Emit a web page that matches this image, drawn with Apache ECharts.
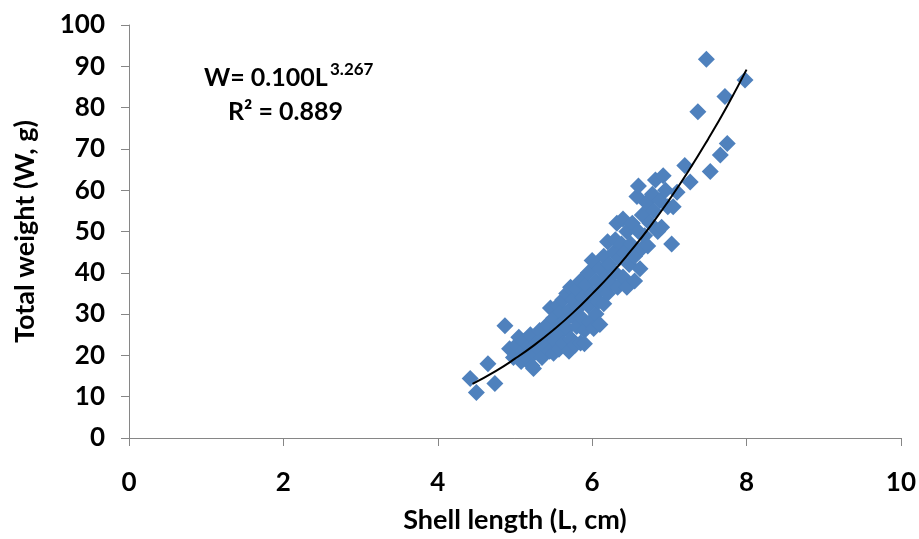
<!DOCTYPE html>
<html>
<head>
<meta charset="utf-8">
<script src="https://cdn.jsdelivr.net/npm/echarts@6/dist/echarts.min.js"></script>
<style>html,body{margin:0;padding:0;background:#fff;}#c{width:919px;height:539px;}</style>
</head>
<body>
<div id="c"></div>
<script>
// Shell length (cm), total weight (g)
const samples = [
[4.42,14.4],[4.50,11.0],[4.65,18.0],[4.74,13.2],[4.87,27.2],[4.93,21.6],[4.98,19.5],[5.02,22.5],[5.05,24.4],[5.08,18.5],
[5.10,21.0],[5.12,23.5],[5.15,19.8],[5.18,22.3],[5.20,25.0],[5.22,17.5],[5.24,16.8],[5.25,20.5],[5.28,23.0],[5.30,21.8],
[5.32,26.0],[5.35,19.5],[5.37,24.2],[5.40,22.0],[5.42,27.5],[5.45,21.0],[5.46,31.5],[5.48,25.0],[5.50,29.0],[5.50,20.5],
[5.52,23.5],[5.55,32.0],[5.55,27.0],[5.57,21.5],[5.60,30.5],[5.60,25.5],[5.62,33.5],[5.63,22.8],[5.65,28.5],[5.67,35.0],
[5.68,26.5],[5.70,31.0],[5.70,21.0],[5.72,36.5],[5.73,24.0],[5.75,29.5],[5.75,33.5],[5.78,22.5],[5.80,27.0],[5.80,36.0],
[5.82,31.5],[5.85,38.0],[5.85,23.0],[5.87,29.0],[5.88,34.0],[5.90,26.0],[5.90,22.8],[5.92,37.0],[5.95,32.0],[5.95,40.0],
[5.97,28.0],[6.00,35.0],[6.00,43.0],[6.02,26.5],[6.05,30.0],[6.05,38.0],[6.08,33.0],[6.10,41.0],[6.10,27.5],[6.12,36.0],
[6.15,44.0],[6.15,32.5],[6.18,39.0],[6.20,47.5],[6.20,35.0],[6.22,42.0],[6.25,37.5],[6.28,45.0],[6.30,40.0],[6.30,48.0],
[6.32,52.0],[6.33,36.5],[6.35,43.5],[6.38,47.0],[6.40,39.0],[6.40,53.0],[6.42,45.0],[6.45,36.5],[6.45,50.0],[6.48,42.0],
[6.50,47.0],[6.52,52.0],[6.55,44.0],[6.55,38.0],[6.58,58.5],[6.60,50.0],[6.60,61.0],[6.62,41.0],[6.65,46.0],[6.65,54.0],
[6.68,49.0],[6.70,57.0],[6.72,46.5],[6.75,52.0],[6.78,59.0],[6.80,55.0],[6.82,62.5],[6.85,50.0],[6.88,57.5],[6.90,51.0],
[6.92,63.5],[6.95,60.0],[6.98,56.0],[7.03,47.0],[7.05,56.0],[7.10,59.5],[7.20,66.0],[7.27,62.0],[7.37,79.0],[7.48,91.7],
[7.53,64.5],[7.66,68.5],[7.72,82.7],[7.75,71.3],[7.98,86.7]
];
// Trend curve
const trendL = [4.45,4.75,5.0,5.25,5.5,5.75,6.0,6.25,6.5,6.75,7.0,7.25,7.5,7.75,8.0];
const trendW = [13.1,16.2,19.2,22.5,26.2,30.3,34.9,39.8,45.3,51.2,57.7,64.7,72.3,80.4,89.2];
const xTicks = [0,2,4,6,8,10];
const yTicks = [0,10,20,30,40,50,60,70,80,90,100];
const xTitle = 'Shell length (L, cm)';
const yTitle = 'Total weight (W, g)';
const eqMain = 'W= 0.100L';
const eqSup = '3.267';
const eqR2 = 'R² = 0.889';

const FONT = 'Lato';
const axisGray = '#868686';
const chart = echarts.init(document.getElementById('c'));
chart.setOption({
  animation: false,
  backgroundColor: '#ffffff',
  grid: {left: 129, right: 18, top: 25, bottom: 100, containLabel: false},
  xAxis: {
    type: 'value', min: xTicks[0], max: xTicks[xTicks.length-1], interval: 2,
    name: xTitle, nameLocation: 'middle', nameGap: 69,
    nameTextStyle: {fontFamily: FONT, fontWeight: 'bold', fontSize: 27, color: '#000'},
    axisLine: {show: true, onZero: false, lineStyle: {color: axisGray, width: 1}},
    axisTick: {show: true, inside: false, length: 8, lineStyle: {color: axisGray}},
    axisLabel: {fontFamily: FONT, fontWeight: 'bold', fontSize: 26, color: '#000', margin: 32},
    splitLine: {show: false}
  },
  yAxis: {
    type: 'value', min: yTicks[0], max: yTicks[yTicks.length-1], interval: 10,
    name: yTitle, nameLocation: 'middle', nameGap: 90, nameRotate: 90,
    nameTextStyle: {fontFamily: FONT, fontWeight: 'bold', fontSize: 27, color: '#000'},
    axisLine: {show: true, lineStyle: {color: axisGray, width: 1}},
    axisTick: {show: true, inside: false, length: 8, lineStyle: {color: axisGray}},
    axisLabel: {fontFamily: FONT, fontWeight: 'bold', fontSize: 26, color: '#000', margin: 24},
    splitLine: {show: false}
  },
  series: [
    {
      type: 'scatter', data: samples, symbol: 'diamond', symbolSize: 17,
      itemStyle: {color: '#4F81BD', opacity: 1}
    },
    {
      type: 'line', data: trendL.map((l, i) => [l, trendW[i]]), smooth: true, showSymbol: false,
      lineStyle: {color: '#000', width: 2}, z: 5
    }
  ],
  graphic: [
    {type: 'text', left: 204, top: 65, style: {text: eqMain, font: 'bold 25px ' + FONT, fill: '#000'}},
    {type: 'text', left: 330, top: 61, style: {text: eqSup, font: 'bold 17px ' + FONT, fill: '#000'}},
    {type: 'text', left: 228, top: 99, style: {text: eqR2, font: 'bold 25px ' + FONT, fill: '#000'}}
  ]
});
</script>
</body>
</html>
